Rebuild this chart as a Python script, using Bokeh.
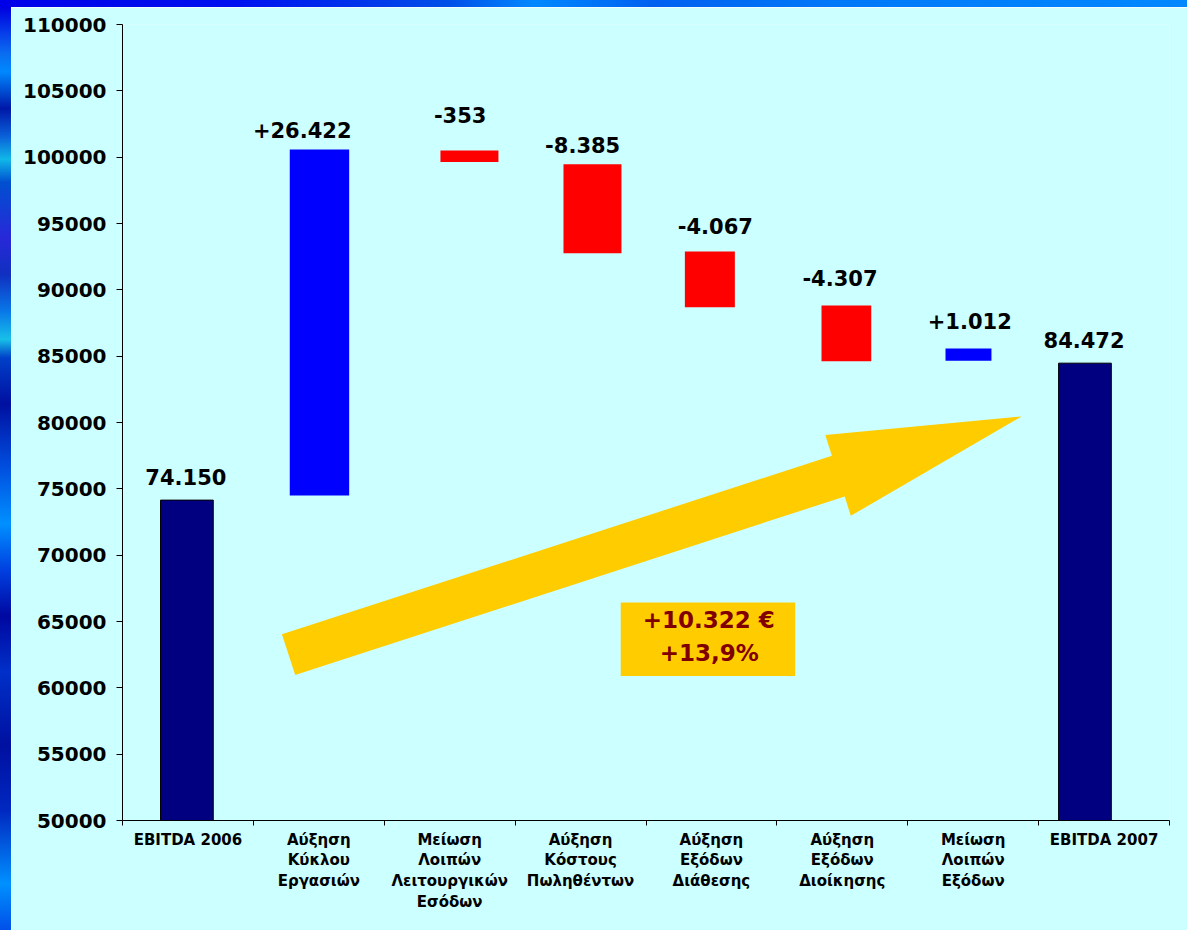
from bokeh.plotting import figure
from bokeh.layouts import column, row
from bokeh.models import Div, FixedTicker, BasicTickFormatter, Range1d
from bokeh.core.properties import value
from bokeh.embed import file_html
from bokeh.resources import INLINE

# ---------------- data ----------------
categories = [
    "EBITDA 2006",
    "Αύξηση\nΚύκλου\nΕργασιών",
    "Μείωση\nΛοιπών\nΛειτουργικών\nΕσόδων",
    "Αύξηση\nΚόστους\nΠωληθέντων",
    "Αύξηση\nΕξόδων\nΔιάθεσης",
    "Αύξηση\nΕξόδων\nΔιοίκησης",
    "Μείωση\nΛοιπών\nΕξόδων",
    "EBITDA 2007",
]
value_labels = ["74.150", "+26.422", "-353", "-8.385", "-4.067", "-4.307", "+1.012", "84.472"]
# bar extents as drawn in the picture
bar_low = [50000, 74500, 99630, 92760, 88690, 84610, 84660, 50000]
bar_high = [74150, 100570, 100510, 99460, 92890, 88815, 85570, 84472]
bar_kind = ["total", "up", "down", "down", "down", "down", "up", "total"]
summary_lines = ["+10.322 €", "+13,9%"]

# ---------------- layout tweaks (category units / axis values) ----------------
bar_center = [0.492, 1.505, 2.651, 3.591, 4.488, 5.531, 6.464, 7.354]
bar_width = [0.403, 0.454, 0.443, 0.443, 0.382, 0.380, 0.351, 0.403]
label_center = [0.484, 1.373, 2.580, 3.516, 4.530, 5.482, 6.474, 7.347]
label_level = [75155, 101268, 102400, 100136, 94023, 90121, 86928, 85494]
arrow_x = [1.3196, 1.2180, 5.4204, 5.3700, 6.8707, 5.5649, 5.5183]
arrow_y = [60966, 64038, 77494, 79057, 80460, 72966, 74423]
box_lr = [3.807, 5.140]
box_bt = [60891, 66423]
summary_x = [4.479, 4.484]
summary_y = [64340, 61894]

colors = {"total": "#000080", "up": "#0000FF", "down": "#FF0000"}
outline = {"total": "#000000", "up": None, "down": None}

FONT = value("DejaVu Sans")
BG = "#CCFFFF"

p = figure(
    width=1176, height=923,
    x_range=Range1d(0, 8), y_range=Range1d(50000, 110000),
    output_backend="svg", toolbar_location=None,
    min_border_left=111, min_border_right=18, min_border_top=17, min_border_bottom=110,
    background_fill_color=BG, border_fill_color=BG,
)
p.outline_line_color = None
p.xgrid.visible = False
p.ygrid.visible = False

# arrow and summary box
p.patch(arrow_x, arrow_y, fill_color="#FFCC00", line_color=None)
p.quad(left=[box_lr[0]], right=[box_lr[1]], bottom=[box_bt[0]], top=[box_bt[1]],
       fill_color="#FFCC00", line_color=None)
p.text(x=summary_x, y=summary_y, text=summary_lines, text_font=FONT,
       text_font_style="bold", text_font_size="23px", text_color="#800000",
       text_align="center", text_baseline="alphabetic", y_offset=-10)

# bars
for i in range(len(categories)):
    k = bar_kind[i]
    p.vbar(x=[bar_center[i]], width=bar_width[i], bottom=[bar_low[i]], top=[bar_high[i]],
           fill_color=colors[k], line_color=outline[k], line_width=1)

# value labels
p.text(x=label_center, y=label_level, text=value_labels, text_font=FONT,
       text_font_style="bold", text_font_size="21px", text_color="#000000",
       text_align="center", text_baseline="alphabetic", y_offset=-10)

# axes
xa = p.xaxis[0]
centers = [i + 0.5 for i in range(len(categories))]
xa.ticker = FixedTicker(ticks=centers, minor_ticks=list(range(len(categories) + 1)))
xa.major_label_overrides = {c: lab for c, lab in zip(centers, categories)}
xa.major_tick_out = 0
xa.major_tick_in = 0
xa.minor_tick_out = 5
xa.minor_tick_in = 0
xa.minor_tick_line_color = "#000000"
xa.axis_line_color = "#000000"
xa.major_label_standoff = 5
xa.major_label_text_font = "DejaVu Sans"
xa.major_label_text_font_style = "bold"
xa.major_label_text_font_size = "15px"
xa.major_label_text_line_height = 1.15
xa.major_label_text_color = "#000000"

ya = p.yaxis[0]
ya.ticker = FixedTicker(ticks=list(range(50000, 110001, 5000)), minor_ticks=[])
ya.formatter = BasicTickFormatter(use_scientific=False)
ya.major_tick_out = 6
ya.major_tick_in = 0
ya.major_tick_line_color = "#000000"
ya.axis_line_color = "#000000"
ya.major_label_standoff = 10
ya.major_label_text_font = "DejaVu Sans"
ya.major_label_text_font_style = "bold"
ya.major_label_text_font_size = "20px"
ya.major_label_text_color = "#000000"

top_stripe = Div(text="", width=1187, height=7, margin=0, styles={
    "background": "linear-gradient(to right, #0000e8 0%, #0010f0 20%, #0050e8 38%, "
                  "#0088ff 45%, #0060f0 55%, #0078f8 70%, #0088ff 100%)"})
left_stripe = Div(text="", width=11, height=923, margin=0, styles={
    "background": "linear-gradient(to bottom, #0000e0 0%, #0a6cf0 5%, #0088ff 7%, "
                  "#0018a8 11%, #0a60d8 14%, #10b8e8 16.5%, #0050d0 19%, #2828d8 25%, "
                  "#1030c0 29%, #0878e8 33%, #18c0e8 36%, #0040c8 38%, #0010a0 43%, "
                  "#0050e0 50%, #0090ff 56%, #0040e0 61%, #0008a0 66%, #0030c8 72%, "
                  "#0010a0 80%, #0028c0 87%, #0090ff 95%, #0050e8 100%)"})

layout = column(top_stripe, row(left_stripe, p, spacing=0), spacing=0,
                styles={"position": "absolute", "left": "0px", "top": "0px"})

open("out.html", "w").write(file_html(layout, INLINE))
